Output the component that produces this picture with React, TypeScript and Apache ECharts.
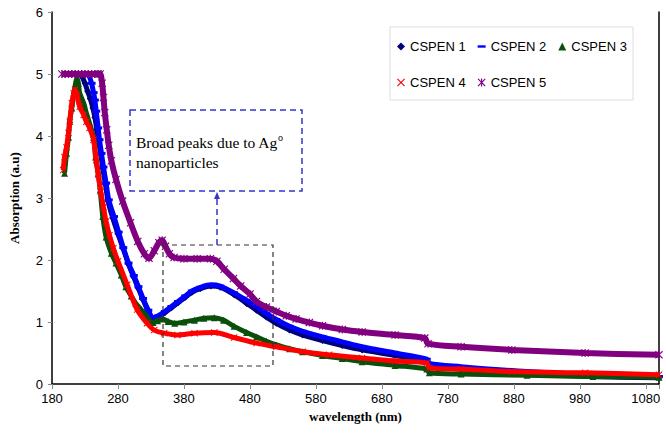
import React, { useEffect, useRef } from "react";
import * as echarts from "echarts";

// ---- data (wavelength nm, absorption a.u) ----
const names = ["CSPEN 1", "CSPEN 2", "CSPEN 3", "CSPEN 4", "CSPEN 5"];

const wl1 = [226, 230, 234, 238, 242, 245, 248, 251, 254, 257, 261, 265, 272, 280, 288, 296, 304, 311, 318, 326, 333, 341, 351, 361, 371, 382, 392, 405, 421, 435, 456, 475, 490, 505, 520, 540, 560, 590, 620, 650, 700, 748, 752, 800, 900, 1000, 1100];
const ab1 = [4.95, 4.85, 4.72, 4.6, 4.45, 4.3, 4.1, 3.9, 3.7, 3.48, 3.22, 2.95, 2.68, 2.42, 2.18, 1.93, 1.72, 1.54, 1.36, 1.17, 1.05, 1.08, 1.15, 1.23, 1.31, 1.4, 1.48, 1.54, 1.58, 1.56, 1.44, 1.3, 1.19, 1.08, 0.98, 0.87, 0.79, 0.7, 0.62, 0.55, 0.46, 0.38, 0.3, 0.24, 0.17, 0.12, 0.1];

const wl2 = [232, 236, 240, 243, 245, 247, 250, 252, 255, 258, 262, 266, 274, 281, 288, 296, 304, 311, 318, 326, 333, 341, 351, 361, 371, 382, 392, 405, 421, 435, 456, 475, 490, 505, 520, 540, 560, 590, 620, 650, 700, 748, 752, 800, 900, 1000, 1100];
const ab2 = [5.0, 4.97, 4.85, 4.7, 4.58, 4.4, 4.13, 3.94, 3.72, 3.5, 3.24, 2.97, 2.7, 2.45, 2.2, 1.95, 1.75, 1.57, 1.38, 1.19, 1.07, 1.1, 1.17, 1.25, 1.33, 1.42, 1.5, 1.56, 1.6, 1.58, 1.47, 1.35, 1.25, 1.14, 1.04, 0.93, 0.85, 0.76, 0.68, 0.6, 0.5, 0.4, 0.33, 0.28, 0.2, 0.15, 0.12];

const wl3 = [199, 202, 205, 207, 210, 214, 218, 220, 222, 228, 232, 237, 243, 246, 250, 253, 257, 262, 270, 277, 285, 292, 300, 307, 315, 322, 333, 340, 348, 356, 366, 380, 396, 410, 426, 440, 456, 475, 490, 505, 520, 540, 560, 590, 620, 650, 700, 748, 752, 800, 900, 1000, 1100];
const ab3 = [3.4, 3.72, 3.98, 4.26, 4.45, 4.74, 4.93, 4.85, 4.69, 4.53, 4.37, 4.2, 3.98, 3.66, 3.4, 3.13, 2.7, 2.37, 2.11, 1.95, 1.76, 1.57, 1.42, 1.3, 1.2, 1.11, 0.99, 1.02, 1.05, 1.01, 0.98, 1.0, 1.03, 1.06, 1.07, 1.03, 0.93, 0.83, 0.76, 0.69, 0.63, 0.57, 0.52, 0.46, 0.41, 0.36, 0.3, 0.24, 0.18, 0.16, 0.14, 0.12, 0.11];

const wl4 = [197, 199, 202, 205, 207, 210, 213, 215, 218, 222, 228, 232, 237, 243, 247, 250, 254, 258, 262, 267, 273, 280, 294, 309, 324, 335, 350, 370, 396, 426, 456, 490, 520, 560, 600, 650, 700, 748, 752, 800, 877, 988, 1100];
const ab4 = [3.45, 3.66, 3.82, 4.05, 4.23, 4.53, 4.69, 4.75, 4.65, 4.47, 4.34, 4.23, 4.13, 3.94, 3.61, 3.38, 3.1, 2.85, 2.62, 2.4, 2.19, 1.98, 1.6, 1.2, 0.98, 0.87, 0.82, 0.79, 0.82, 0.83, 0.75, 0.66, 0.6, 0.52, 0.47, 0.42, 0.37, 0.34, 0.26, 0.24, 0.2, 0.18, 0.15];

const wl5 = [195, 200, 205, 210, 215, 220, 225, 230, 235, 240, 245, 250, 253, 256, 258, 260, 263, 266, 270, 277, 287, 299, 310, 320, 327, 335, 342, 347, 352, 358, 365, 380, 400, 420, 430, 441, 455, 466, 480, 490, 505, 520, 535, 550, 570, 590, 620, 650, 700, 745, 750, 800, 877, 988, 1100];
const ab5 = [5.0, 5.0, 5.0, 5.0, 5.0, 5.0, 5.0, 5.0, 5.0, 5.0, 5.0, 5.0, 5.0, 4.85, 4.62, 4.38, 4.1, 3.85, 3.6, 3.3, 2.95, 2.6, 2.3, 2.1, 2.03, 2.15, 2.28, 2.32, 2.22, 2.1, 2.04, 2.02, 2.02, 2.02, 1.98, 1.85, 1.7, 1.58, 1.45, 1.33, 1.24, 1.17, 1.1, 1.05, 0.99, 0.94, 0.88, 0.84, 0.79, 0.74, 0.65, 0.6, 0.55, 0.5, 0.47];

const xTicks = [180, 280, 380, 480, 580, 680, 780, 880, 980, 1080];

const crossPath =
  "path://M0,1L1,0L5,4L9,0L10,1L6,5L10,9L9,10L5,6L1,10L0,9L4,5Z";
const starPath =
  "path://M4.3,0H5.7V10H4.3Z M0,1L1,0L5,4L9,0L10,1L6,5L10,9L9,10L5,6L1,10L0,9L4,5Z";
const dashPath = "path://M0,0H10V3H0Z";

const colors = ["#00007a", "#0000ff", "#0a4f0a", "#ff0000", "#800080"];
const symbols = ["diamond", "rect", "triangle", crossPath, starPath];
const legendIcons = ["diamond", dashPath, "triangle", crossPath, starPath];
const symbolSizes: any[] = [7, [8, 3], 7, 7, 8];
const lineWidths = [5, 5, 5, 5, 6];

const wls = [wl1, wl2, wl3, wl4, wl5];
const abs = [ab1, ab2, ab3, ab4, ab5];

export default function App() {
  const ref = useRef<HTMLDivElement>(null);
  useEffect(() => {
    if (!ref.current) return;
    const chart = echarts.init(ref.current, null, { renderer: "svg" });
    const series = names.map((n, i) => ({
      name: n,
      type: "line",
      data: wls[i].map((w, k) => [w, abs[i][k]]),
      symbol: symbols[i],
      symbolSize: symbolSizes[i],
      showSymbol: true,
      showAllSymbol: true,
      smooth: 0.3,
      lineStyle: { width: lineWidths[i], color: colors[i] },
      itemStyle: { color: colors[i] },
      emphasis: { disabled: true },
      z: 2 + i,
    }));
    const legendText = { fontFamily: "Liberation Sans, Arial", fontSize: 13, color: "#000" };
    const legendItem = (i: number) => ({
      name: names[i],
      icon: legendIcons[i],
      itemStyle: { color: colors[i] },
    });
    const serif = "Liberation Serif, Times New Roman";
    chart.setOption({
      animation: false,
      backgroundColor: "#fff",
      grid: { left: 44, right: 7, top: 12, bottom: 56 },
      legend: [
        {
          left: 392,
          top: 35,
          itemWidth: 8,
          itemHeight: 8,
          itemGap: 12,
          textStyle: legendText,
          data: [legendItem(0), legendItem(1), legendItem(2)],
          selectedMode: false,
        },
        {
          left: 392,
          top: 71,
          itemWidth: 8,
          itemHeight: 8,
          itemGap: 12,
          textStyle: legendText,
          data: [legendItem(3), legendItem(4)],
          selectedMode: false,
        },
      ],
      xAxis: {
        type: "value",
        min: 180,
        max: 1100,
        interval: 100,
        name: "wavelength (nm)",
        nameLocation: "middle",
        nameGap: 26,
        nameTextStyle: { fontFamily: serif, fontWeight: "bold", fontSize: 13, color: "#000" },
        axisLine: { show: true, onZero: false, lineStyle: { color: "#000", width: 1.5 } },
        axisTick: { show: true, length: 5, lineStyle: { color: "#888" } },
        axisLabel: {
          fontFamily: "Liberation Sans, Arial",
          fontSize: 13,
          color: "#000",
          margin: 8,
          formatter: (v: number) => (xTicks.includes(v) ? String(v) : ""),
        },
        splitLine: { show: false },
      },
      yAxis: [
        {
          type: "value",
          min: 0,
          max: 6,
          interval: 1,
          name: "Absorption (a.u)",
          nameLocation: "middle",
          nameGap: 31,
          nameTextStyle: { fontFamily: serif, fontWeight: "bold", fontSize: 13, color: "#000" },
          axisLine: { show: true, lineStyle: { color: "#000", width: 1.5 } },
          axisTick: { show: true, length: 4, lineStyle: { color: "#888" } },
          axisLabel: { fontFamily: "Liberation Sans, Arial", fontSize: 13, color: "#000", margin: 9 },
          splitLine: { show: false },
        },
        {
          type: "value",
          min: 0,
          max: 6,
          interval: 1,
          position: "right",
          axisLine: { show: true, lineStyle: { color: "#000", width: 1.5 } },
          axisTick: { show: false },
          axisLabel: { show: false },
          splitLine: { show: false },
        },
      ],
      series,
      graphic: [
        {
          type: "rect",
          shape: { x: 390, y: 27, width: 243, height: 73 },
          style: { fill: "#fff", stroke: "#dddddd", lineWidth: 1 },
          z: 0,
          zlevel: 0,
        },
        {
          type: "rect",
          shape: { x: 130, y: 110, width: 172, height: 81 },
          style: { fill: "transparent", stroke: "#3535d0", lineWidth: 1.5, lineDash: [6, 4] },
          z: 20,
        },
        {
          type: "text",
          x: 136,
          y: 152,
          style: {
            text: "{a|Broad peaks due to Ag}{s|o}\n{a|nanoparticles}",
            rich: {
              a: { fontFamily: serif, fontSize: 15.5, color: "#111", lineHeight: 20 },
              s: { fontFamily: serif, fontSize: 10, color: "#111", verticalAlign: "top", lineHeight: 20, padding: [0, 0, 8, 0] },
            },
            verticalAlign: "middle",
          },
          z: 21,
        },
        {
          type: "line",
          shape: { x1: 217, y1: 245, x2: 217, y2: 198 },
          style: { stroke: "#3535d0", lineWidth: 1.5, lineDash: [6, 4] },
          z: 20,
        },
        {
          type: "polygon",
          shape: { points: [[217, 192], [214, 199], [220, 199]] },
          style: { fill: "#3535d0" },
          z: 20,
        },
        {
          type: "rect",
          shape: { x: 163, y: 245, width: 110, height: 121 },
          style: { fill: "transparent", stroke: "#333", lineWidth: 1.2, lineDash: [5, 4] },
          z: 20,
        },
      ],
    });
    return () => chart.dispose();
  }, []);
  return <div ref={ref} style={{ width: 666, height: 440, position: "absolute", left: 0, top: 0 }} />;
}
